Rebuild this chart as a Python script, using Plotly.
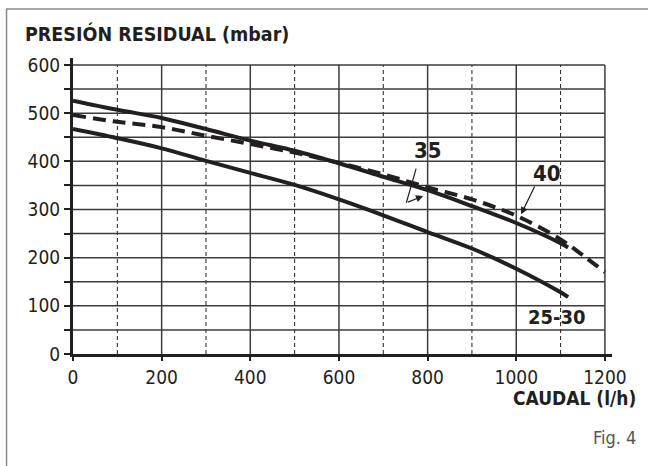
import plotly.graph_objects as go

# ---- data ----
flow_35 = [0, 100, 200, 300, 400, 500, 600, 700, 800, 900, 1000, 1100, 1117]
pres_35 = [526, 507, 490, 467, 443, 422, 396, 368, 340, 307, 272, 230, 221]

flow_40 = [0, 100, 200, 300, 400, 500, 600, 700, 800, 900, 1000, 1100, 1150, 1200]
pres_40 = [496, 482, 471, 453, 436, 418, 397, 373, 346, 321, 287, 238, 205, 170]

flow_2530 = [0, 100, 200, 300, 400, 500, 600, 700, 800, 900, 1000, 1100, 1117]
pres_2530 = [467, 448, 427, 401, 376, 351, 321, 288, 253, 219, 177, 128, 118]

x_solid_grid = [200, 400, 600, 800, 1000, 1200]
x_dashed_grid = [100, 300, 500, 700, 900, 1100]
y_grid = [50, 100, 150, 200, 250, 300, 350, 400, 450, 500, 550, 600]
x_ticks = [0, 200, 400, 600, 800, 1000, 1200]
y_ticks = [0, 100, 200, 300, 400, 500, 600]

title_text = "PRESIÓN RESIDUAL (mbar)"
xtitle_text = "CAUDAL (l/h)"
fig_text = "Fig. 4"

INK = "#231f20"
GRID = "#3c3c3c"
TICKFONT = "DejaVu Sans Condensed, DejaVu Sans, sans-serif"
LABFONT = "DejaVu Sans Condensed, DejaVu Sans, sans-serif"

fig = go.Figure()
fig.add_trace(go.Scatter(x=flow_35, y=pres_35, mode="lines", line=dict(color=INK, width=4, shape="spline"),
                         name="35", showlegend=False, hoverinfo="skip"))
fig.add_trace(go.Scatter(x=flow_40, y=pres_40, mode="lines",
                         line=dict(color=INK, width=4, dash="13px,7px", shape="spline"),
                         name="40", showlegend=False, hoverinfo="skip"))
fig.add_trace(go.Scatter(x=flow_2530, y=pres_2530, mode="lines", line=dict(color=INK, width=4, shape="spline"),
                         name="25-30", showlegend=False, hoverinfo="skip"))

shapes = []
for gx in x_solid_grid:
    shapes.append(dict(type="line", xref="x", yref="y", x0=gx, x1=gx, y0=0, y1=600,
                       line=dict(color=GRID, width=1.5), layer="below"))
for gx in x_dashed_grid:
    shapes.append(dict(type="line", xref="x", yref="y", x0=gx, x1=gx, y0=0, y1=600,
                       line=dict(color=INK, width=1, dash="4px,3px"), layer="below"))
for gy in y_grid:
    shapes.append(dict(type="line", xref="x", yref="y", x0=0, x1=1200, y0=gy, y1=gy,
                       line=dict(color=GRID, width=1.5), layer="below"))
# outer frame
shapes.append(dict(type="rect", xref="paper", yref="paper", x0=-0.1233, x1=1.3, y0=-0.6, y1=1.1659,
                   line=dict(color="#8a8a8a", width=1.5), layer="below"))

annotations = [
    dict(text="<b>" + title_text + "</b>", xref="paper", yref="paper", x=-0.0924, y=1.0806,
         xanchor="left", yanchor="middle", showarrow=False, font=dict(family=TICKFONT, size=19.5, color=INK)),
    dict(text="<b>" + xtitle_text + "</b>", xref="paper", yref="paper", x=1.0488, y=-0.150,
         xanchor="right", yanchor="middle", showarrow=False, font=dict(family=TICKFONT, size=19, color=INK)),
    dict(text=fig_text, xref="paper", yref="paper", x=1.0488, y=-0.282,
         xanchor="right", yanchor="middle", showarrow=False, font=dict(family=TICKFONT, size=18, color="#555555")),
    dict(text="<b>35</b>", x=802, y=422, xref="x", yref="y", showarrow=False,
         font=dict(family=LABFONT, size=22, color=INK)),
    dict(text="<b>40</b>", x=1069, y=374, xref="x", yref="y", showarrow=False,
         font=dict(family=LABFONT, size=22, color=INK)),
    dict(text="<b>25-30</b>", x=1093, y=76, xref="x", yref="y", showarrow=False,
         font=dict(family=LABFONT, size=20, color=INK)),
    # arrows
    dict(text="", x=752, y=314, ax=775, ay=388, xref="x", yref="y", axref="x", ayref="y",
         showarrow=True, arrowhead=0, arrowwidth=1.2, arrowcolor=INK),
    dict(text="", x=790, y=328, ax=752, ay=314, xref="x", yref="y", axref="x", ayref="y",
         showarrow=True, arrowhead=2, arrowsize=1.2, arrowwidth=1.2, arrowcolor=INK, standoff=0),
    dict(text="", x=1011, y=290, ax=1043, ay=351, xref="x", yref="y", axref="x", ayref="y",
         showarrow=True, arrowhead=2, arrowsize=1.2, arrowwidth=1.2, arrowcolor=INK, standoff=0),
]

fig.update_layout(
    width=648, height=466,
    margin=dict(l=72.5, r=36.3, t=58.3, b=112.3, pad=0),
    paper_bgcolor="white", plot_bgcolor="white",
    shapes=shapes, annotations=annotations, showlegend=False,
    xaxis=dict(range=[0, 1216], showgrid=False, zeroline=False, showline=True, linecolor=INK, linewidth=3,
               tickvals=x_ticks, ticktext=[str(v) for v in x_ticks], ticks="outside", ticklen=4,
               tickwidth=1.5, tickcolor=INK, tickfont=dict(family=TICKFONT, size=19, color=INK)),
    yaxis=dict(range=[0, 614.5], showgrid=False, zeroline=False, showline=True, linecolor=INK, linewidth=3,
               tickvals=y_ticks, ticktext=[str(v) for v in y_ticks], ticks="outside", ticklen=6,
               tickwidth=1.5, tickcolor=INK, tickfont=dict(family=TICKFONT, size=19, color=INK),
               minor=dict(dtick=50, ticks="outside", ticklen=6, tickwidth=1.5, tickcolor=INK)),
)

fig.write_html("out.html", config={"displayModeBar": False},
               post_script="document.body.style.margin='0';document.body.style.overflow='hidden';")
